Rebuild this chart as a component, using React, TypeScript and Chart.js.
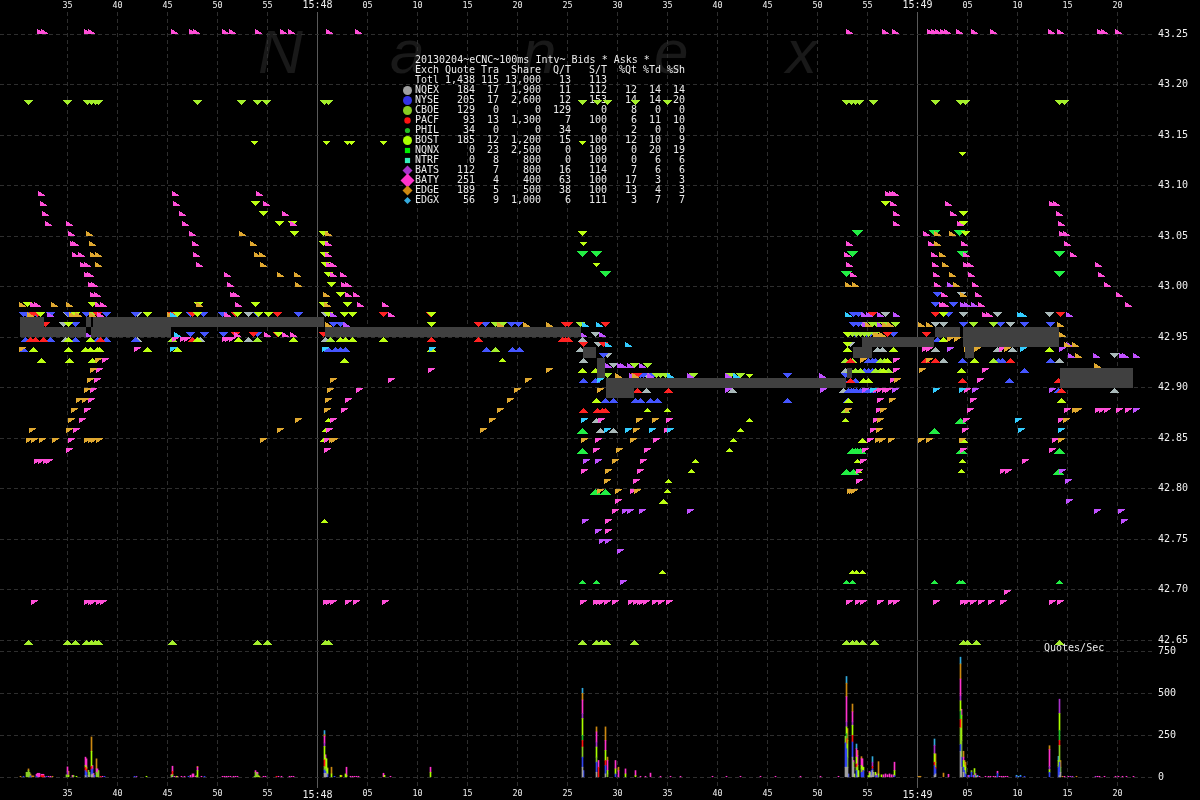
import React, { useEffect, useRef } from "react";
import { Chart, registerables } from "chart.js";

Chart.register(...registerables);

// x values are 100ms interval numbers; 15:47:35 is interval 67, 15:48:00 is 317.
const xTickPositions = [67, 117, 167, 217, 267, 317, 367, 417, 467, 517, 567, 617, 667, 717, 767, 817, 867, 917, 967, 1017, 1067, 1117];
const xTickLabels = ["35", "40", "45", "50", "55", "15:48", "05", "10", "15", "20", "25", "30", "35", "40", "45", "50", "55", "15:49", "05", "10", "15", "20"];
const priceTicks = [42.65, 42.7, 42.75, 42.8, 42.85, 42.9, 42.95, 43.0, 43.05, 43.1, 43.15, 43.2, 43.25];
const quoteTicks = [0, 250, 500, 750];

const titleLine = "20130204~eCNC~100ms Intv~ Bids * Asks *";
const tableHeader = ["Exch", "Quote", "Tra", "Share", "Q/T", "S/T", "%Qt", "%Td", "%Sh"];
const tableTotal = ["Totl", "1,438", "115", "13,000", "13", "113", "", "", ""];
const tableRows = [
  ["NQEX", "184", "17", "1,900", "11", "112", "12", "14", "14"],
  ["NYSE", "205", "17", "2,600", "12", "153", "14", "14", "20"],
  ["CBOE", "129", "0", "0", "129", "0", "8", "0", "0"],
  ["PACF", "93", "13", "1,300", "7", "100", "6", "11", "10"],
  ["PHIL", "34", "0", "0", "34", "0", "2", "0", "0"],
  ["BOST", "185", "12", "1,200", "15", "100", "12", "10", "9"],
  ["NQNX", "0", "23", "2,500", "0", "109", "0", "20", "19"],
  ["NTRF", "0", "8", "800", "0", "100", "0", "6", "6"],
  ["BATS", "112", "7", "800", "16", "114", "7", "6", "6"],
  ["BATY", "251", "4", "400", "63", "100", "17", "3", "3"],
  ["EDGE", "189", "5", "500", "38", "100", "13", "4", "3"],
  ["EDGX", "56", "9", "1,000", "6", "111", "3", "7", "7"],
];
const watermarkLetters = ["N", "a", "n", "e", "x"];

// NBBO band: [start interval, end interval, low price, high price]
const nbboBand = [
  [20, 44, 42.95, 42.97], [44, 86, 42.95, 42.96], [86, 91, 42.96, 42.97], [91, 93, 42.95, 42.96],
  [93, 171, 42.95, 42.97], [171, 324, 42.96, 42.97], [325, 581, 42.95, 42.96], [583, 596, 42.93, 42.94],
  [597, 605, 42.91, 42.93], [606, 634, 42.89, 42.91], [634, 846, 42.9, 42.91], [847, 852, 42.91, 42.92],
  [853, 872, 42.93, 42.94], [862, 934, 42.94, 42.95], [935, 960, 42.95, 42.96], [963, 1059, 42.94, 42.96],
  [965, 974, 42.93, 42.94], [1060, 1133, 42.9, 42.92],
];

// Quote rows: [price, interval, interval, ...]
const nqexAsks = [[42.99, 961], [42.97, 67, 137, 248, 325, 885, 963, 997, 1049], [42.96, 63, 862, 935, 943, 1010], [42.95, 595], [42.94, 598, 850], [42.93, 607, 1114], [42.92, 613], [42.91, 646]];
const nqexBids = [[42.95, 65, 137, 200, 248, 325, 582], [42.94, 580, 877, 882, 935, 997, 1012], [42.93, 583, 943, 1059], [42.92, 845], [42.9, 646, 732, 843, 1114], [42.87, 596], [42.86, 600, 613]];
const nyseAsks = [[42.99, 937], [42.98, 935, 953], [42.97, 23, 26, 36, 50, 68, 86, 106, 135, 190, 203, 222, 257, 298, 853, 858, 948], [42.96, 75, 333, 340, 485, 511, 518, 853, 858, 963, 1000, 1024, 1050], [42.95, 190, 204, 223, 257, 855, 866, 870, 893], [42.93, 603], [42.91, 635, 640, 643, 653, 787, 845]];
const nyseBids = [[42.95, 25, 50, 75, 97, 106, 135, 937], [42.94, 23, 328, 335, 340, 345, 486, 512, 519], [42.93, 868, 872, 875, 962, 998, 1002, 1050], [42.92, 864, 868, 872, 1024], [42.91, 583, 595, 843, 855, 1009], [42.9, 848, 851, 853, 856, 860, 863, 868, 871, 1058], [42.89, 605, 613, 635, 640, 650, 657, 787, 847]];
const cboeAsks = [[43.18, 28, 67, 87, 91, 95, 98, 197, 241, 257, 266, 324, 328, 582, 597, 607, 635, 667, 846, 851, 855, 859, 873, 935, 960, 965, 1059, 1064], [42.98, 27], [42.97, 93], [42.96, 495, 502, 580, 872, 876, 884, 895, 973, 993], [42.95, 848, 852, 856, 860, 864, 868, 874], [42.92, 634, 647], [42.91, 607, 656, 660, 665, 693, 730, 740]];
const cboeBids = [[42.95, 172, 257, 330], [42.94, 495], [42.93, 845, 852, 880, 884, 993], [42.92, 850, 855, 860, 875, 880, 888], [42.88, 845], [42.65, 28, 67, 75, 86, 91, 95, 98, 172, 257, 267, 325, 328, 582, 596, 601, 606, 634, 846, 852, 856, 862, 874, 963, 967, 976, 1059]];
const pacfAsks = [[42.97, 33, 37, 97, 172, 192, 235, 277, 383, 430, 872, 935, 1060], [42.96, 45, 478, 565, 568, 605], [42.95, 235, 253, 277, 323, 887, 926], [42.94, 583, 603], [42.91, 635, 637]];
const pacfBids = [[42.95, 30, 35, 43, 100, 192, 431, 478, 562, 565, 568], [42.93, 850, 925, 935, 1010], [42.91, 850, 962, 1058], [42.9, 637, 668, 1061], [42.88, 583, 597, 602, 605]];
const philAsks = [[43.05, 857, 934, 959], [43.03, 582, 596, 852, 962, 1059], [43.01, 605, 846, 1059]];
const philBids = [[42.87, 960], [42.86, 582, 934], [42.84, 582, 852, 855, 857, 860, 961, 1059], [42.82, 846, 853, 1058], [42.8, 595, 605]];
const philSmallBids = [[42.71, 582, 596, 846, 852, 934, 959, 962, 1059]];
const bostAsks = [[43.08, 255, 885], [43.07, 263, 963], [43.06, 279, 292, 963], [43.05, 294, 323, 582, 965], [43.04, 323], [43.03, 324], [43.02, 325], [43.01, 328], [43.0, 331], [42.99, 340], [42.98, 27, 92, 198, 255, 323, 347], [42.97, 40, 75, 147, 177, 197, 237, 258, 268, 328, 344, 352, 431, 943], [42.96, 68, 431], [42.95, 278, 847], [42.94, 847]];
const bostBids = [[42.95, 68, 90, 197, 238, 293, 340, 345, 352, 383, 943], [42.94, 33, 68, 85, 90, 97, 99, 147, 177, 431, 847, 893, 1049], [42.93, 41, 69, 92, 344, 887, 974], [42.92, 582, 595, 883, 961], [42.91, 863, 868], [42.89, 596, 848, 1061], [42.85, 862, 963], [42.79, 663]];
const bostSmallAsks = [[43.14, 254, 326, 347, 351, 383, 582], [43.13, 962], [43.04, 583], [43.02, 596], [42.91, 749]];
const bostSmallBids = [[42.93, 502], [42.88, 647, 667], [42.87, 328, 749, 845], [42.86, 325, 740], [42.85, 323, 733], [42.84, 729], [42.83, 695, 857, 962], [42.82, 691, 858, 961], [42.81, 668], [42.8, 667], [42.77, 324], [42.72, 662, 852, 856, 862]];
const batsAsks = [[43.0, 950], [42.98, 963, 967, 974], [42.97, 50, 333, 864, 869, 880, 896, 1069], [42.96, 346, 865, 880], [42.95, 88, 583, 602], [42.94, 1069], [42.93, 1071, 1096, 1122, 1125, 1136], [42.92, 608, 620, 623, 630, 642], [42.91, 632, 650, 690, 728, 822]];
const batsBids = [[42.94, 950, 1062], [42.9, 728, 823, 865, 895, 975, 1052], [42.88, 1136], [42.83, 586, 598], [42.82, 1062], [42.81, 1068], [42.79, 1069], [42.78, 625, 630, 642, 690, 1097, 1121], [42.77, 585, 1124], [42.76, 598], [42.75, 602, 608], [42.74, 620], [42.71, 623]];
const batyAsks = [[43.25, 40, 44, 87, 91, 174, 192, 196, 225, 232, 258, 283, 291, 329, 358, 849, 885, 895, 930, 934, 938, 943, 947, 959, 974, 993, 1051, 1060, 1100, 1104, 1118], [43.09, 41, 175, 259, 888, 892, 895], [43.08, 43, 176, 266, 893, 948, 1052, 1056], [43.07, 45, 182, 285, 896, 953, 1059], [43.06, 48, 69, 185, 293, 896, 960, 1061], [43.05, 71, 192, 328, 926, 1062, 1066], [43.04, 73, 75, 195, 328, 849, 931, 964, 1067], [43.03, 75, 81, 196, 328, 847, 934, 966, 1073], [43.02, 83, 87, 199, 329, 333, 849, 935, 966, 970, 1098], [43.01, 87, 90, 227, 333, 343, 853, 936, 971, 1101], [43.0, 91, 94, 230, 344, 348, 937, 975, 1107], [42.99, 93, 97, 233, 236, 348, 356, 944, 978, 1119], [42.98, 33, 37, 98, 103, 238, 360, 385, 942, 945, 981, 1128], [42.97, 100, 227, 391, 985, 989], [42.95, 237, 267, 285, 293]];
const batyBids = [[42.95, 175, 183, 187, 225, 228, 232], [42.94, 137, 925, 929, 1002], [42.93, 105, 896], [42.92, 99, 431, 896, 985], [42.91, 97, 391, 893, 980], [42.9, 93, 359, 876, 880, 885, 888, 967], [42.89, 91, 348, 880, 973], [42.88, 87, 344, 879, 970, 1067, 1098, 1102, 1107, 1119, 1128], [42.87, 82, 333, 601, 669, 876, 966, 1061], [42.86, 76, 329, 667, 873, 965], [42.85, 71, 327, 598, 656, 870, 1055], [42.84, 69, 327, 596, 647, 865, 963, 1052], [42.83, 37, 41, 46, 49, 643, 863, 1025], [42.82, 584, 640, 859, 1003, 1008], [42.81, 636, 859], [42.8, 633], [42.79, 618], [42.78, 615], [42.77, 608], [42.76, 608], [42.7, 1007], [42.69, 34, 87, 91, 93, 99, 103, 326, 329, 333, 348, 356, 385, 583, 596, 599, 602, 607, 615, 631, 636, 640, 642, 646, 655, 661, 669, 849, 858, 863, 880, 891, 896, 936, 963, 967, 973, 981, 991, 1003, 1052, 1060]];
const edgeAsks = [[43.05, 89, 242, 328, 937, 952], [43.04, 92, 253, 937], [43.03, 93, 98, 257, 262, 942], [43.02, 98, 263, 945], [43.01, 280, 297, 952], [43.0, 298, 848, 855, 956], [42.99, 326, 963], [42.98, 22, 54, 69, 199, 327], [42.97, 30, 72, 78, 92, 170], [42.96, 328, 500, 526, 549, 868, 885, 890, 921, 929, 1060], [42.95, 876, 878, 882, 1062], [42.94, 1067, 1075], [42.93, 1078], [42.92, 1097], [42.91, 618, 635]];
const edgeBids = [[42.95, 950, 957], [42.94, 22, 967, 977, 1007], [42.93, 98, 863, 929], [42.92, 93, 549, 922], [42.91, 90, 333, 528, 897], [42.9, 87, 330, 517, 600], [42.89, 79, 85, 328, 510, 892], [42.88, 74, 327, 500, 848, 883, 1075, 1078], [42.87, 71, 298, 492, 639, 655, 880, 1066], [42.86, 32, 69, 280, 483, 636, 879], [42.85, 29, 34, 42, 55, 87, 91, 94, 99, 263, 332, 334, 584, 633, 878, 882, 891, 921, 929, 962, 1061], [42.84, 619], [42.83, 615], [42.82, 608], [42.81, 607], [42.8, 600, 618, 637, 850, 852, 854]];
const edgxAsks = [[42.97, 173, 848, 1020, 1023], [42.96, 585, 599], [42.95, 177], [42.94, 608, 628], [42.91, 670, 736]];
const edgxBids = [[42.94, 173, 325, 432, 1023], [42.91, 600], [42.9, 873, 936, 962], [42.87, 584, 1018], [42.86, 607, 628, 652, 670, 1021, 1061]];

// Quotes per second: [interval, value]
const nqexQuotes = [[85, 10], [88, 12], [91, 15], [92, 20], [172, 6], [324, 24], [325, 24], [326, 20], [582, 60], [596, 30], [605, 20], [845, 60], [846, 60], [847, 60], [852, 120], [853, 60], [857, 10], [870, 20], [871, 10], [872, 40], [873, 30], [934, 10], [935, 20], [960, 155], [961, 60], [963, 30], [1059, 10], [1060, 30]];
const nyseQuotes = [[23, 6], [30, 8], [36, 6], [46, 6], [85, 30], [86, 30], [91, 30], [92, 30], [94, 12], [104, 6], [134, 6], [188, 6], [204, 6], [324, 20], [325, 10], [327, 20], [334, 6], [582, 60], [583, 40], [596, 60], [605, 50], [615, 20], [845, 145], [846, 110], [848, 20], [852, 90], [856, 40], [861, 30], [862, 30], [863, 40], [871, 30], [872, 10], [875, 10], [877, 10], [894, 10], [934, 60], [935, 30], [960, 40], [961, 60], [963, 30], [964, 40], [965, 20], [969, 12], [971, 30], [974, 12], [997, 24], [1016, 6], [1020, 6], [1024, 6], [1049, 30], [1058, 60], [1059, 80]];
const cboeQuotes = [[26, 30], [27, 30], [28, 40], [29, 30], [66, 15], [67, 12], [73, 12], [88, 30], [89, 30], [96, 30], [97, 20], [98, 40], [171, 12], [172, 10], [196, 10], [254, 6], [255, 30], [257, 20], [324, 20], [325, 20], [582, 60], [596, 30], [607, 20], [845, 40], [846, 30], [847, 60], [853, 30], [856, 20], [861, 20], [960, 100], [961, 100], [971, 10], [974, 20], [1058, 10], [1059, 100], [1060, 30]];
const pacfQuotes = [[41, 10], [42, 10], [43, 10], [85, 20], [86, 20], [91, 20], [100, 6], [172, 20], [276, 6], [324, 40], [582, 40], [598, 60], [605, 30], [846, 30], [852, 40], [856, 20], [862, 10], [872, 15], [934, 20], [935, 10], [960, 50], [1059, 30]];
const philQuotes = [[582, 30], [846, 30], [960, 50], [1059, 60]];
const bostQuotes = [[68, 12], [76, 6], [85, 10], [86, 10], [91, 90], [146, 6], [176, 6], [197, 40], [256, 10], [258, 10], [324, 80], [325, 60], [326, 90], [327, 30], [331, 20], [340, 12], [345, 20], [346, 10], [384, 12], [430, 30], [582, 100], [596, 60], [605, 60], [607, 20], [615, 30], [625, 20], [635, 10], [846, 40], [847, 100], [852, 60], [854, 20], [856, 40], [857, 60], [858, 40], [861, 20], [862, 20], [863, 20], [868, 10], [869, 25], [870, 10], [875, 20], [878, 20], [881, 15], [894, 30], [934, 50], [935, 30], [960, 60], [961, 150], [963, 40], [964, 30], [965, 40], [974, 20], [975, 10], [1049, 15], [1058, 30], [1059, 100]];
const batsQuotes = [[67, 20], [136, 6], [324, 20], [582, 30], [596, 30], [846, 30], [852, 20], [872, 25], [934, 50], [960, 30], [1049, 20], [1059, 85], [1070, 6], [1072, 6], [1095, 6]];
const batyQuotes = [[36, 12], [37, 24], [38, 24], [39, 24], [41, 8], [42, 8], [43, 8], [44, 6], [48, 6], [50, 6], [67, 30], [72, 12], [85, 50], [86, 50], [92, 20], [93, 24], [96, 20], [97, 30], [102, 6], [171, 6], [172, 30], [174, 6], [177, 6], [181, 6], [184, 6], [190, 12], [192, 20], [193, 20], [195, 6], [197, 20], [201, 6], [222, 6], [224, 6], [226, 6], [228, 6], [230, 6], [233, 6], [235, 6], [237, 6], [255, 10], [256, 20], [257, 10], [263, 6], [265, 6], [278, 6], [281, 6], [289, 6], [291, 6], [293, 6], [324, 40], [325, 20], [346, 50], [350, 6], [352, 6], [354, 6], [356, 6], [358, 6], [383, 24], [390, 6], [430, 30], [582, 80], [596, 60], [598, 40], [605, 60], [607, 60], [615, 50], [618, 40], [625, 30], [635, 30], [640, 6], [645, 6], [650, 25], [660, 6], [670, 6], [680, 6], [712, 6], [726, 6], [740, 6], [760, 6], [775, 6], [800, 6], [820, 6], [838, 6], [846, 150], [852, 60], [853, 10], [856, 50], [857, 60], [861, 40], [862, 50], [869, 10], [876, 20], [883, 15], [885, 20], [887, 15], [889, 20], [891, 15], [893, 15], [894, 50], [948, 18], [960, 100], [961, 35], [963, 20], [968, 12], [973, 12], [975, 12], [976, 6], [979, 6], [985, 6], [988, 6], [990, 6], [993, 6], [995, 6], [997, 12], [999, 6], [1001, 6], [1003, 6], [1005, 6], [1007, 6], [1049, 100], [1064, 6], [1068, 6], [1097, 6], [1099, 6], [1104, 6], [1115, 6], [1118, 6], [1122, 6], [1126, 6], [1133, 6]];
const edgeQuotes = [[20, 6], [28, 10], [30, 12], [31, 8], [32, 8], [33, 8], [52, 6], [68, 24], [91, 85], [96, 60], [197, 5], [259, 6], [324, 10], [327, 6], [331, 40], [341, 12], [582, 40], [596, 30], [605, 80], [607, 20], [618, 20], [846, 80], [847, 70], [852, 46], [857, 30], [861, 13], [878, 73], [918, 6], [919, 6], [920, 6], [935, 50], [943, 25], [960, 90], [963, 35], [964, 30], [965, 30], [1049, 23], [1060, 40], [1062, 6], [1076, 6]];
const edgxQuotes = [[324, 24], [582, 30], [846, 40], [856, 28], [872, 33], [934, 38], [960, 40], [977, 12], [1016, 6], [1018, 6], [1020, 6], [1058, 25]];

const COL = {
  nqex: "#a9b9b9", nyse: "#4455ff", cboe: "#a4ee2c", pacf: "#ff2222", phil: "#22ee44",
  bost: "#bcff12", bats: "#c050ff", baty: "#ff4fd8", edge: "#e0a830", edgx: "#33ccff",
};

function makeMarker(color: string, kind: "iso" | "right", side: "ask" | "bid", w: number, h: number) {
  const c = document.createElement("canvas");
  c.width = w;
  c.height = h * 2;
  const g = c.getContext("2d")!;
  g.fillStyle = color;
  for (let r = 0; r < h; r++) {
    const y = side === "ask" ? r : h + r;
    if (kind === "iso") {
      const inset = side === "ask" ? r : h - 1 - r;
      const rowW = Math.max(1, w - 2 * inset);
      g.fillRect((w - rowW) / 2, y, rowW, 1);
    } else {
      const t = side === "ask" ? (r + 1) / h : (h - r) / h;
      const rowW = Math.max(1, Math.round(w * t));
      g.fillRect(0, y, rowW, 1);
    }
  }
  return c;
}

function points(rows: number[][]) {
  const out: { x: number; y: number }[] = [];
  rows.forEach(([price, ...xs]) => xs.forEach((x) => out.push({ x, y: price })));
  return out;
}

const MONO = '"DejaVu Sans Mono", monospace';

export default function App() {
  const ref = useRef<HTMLCanvasElement | null>(null);
  useEffect(() => {
    const canvas = ref.current!;
    const series: [number[][], string, "iso" | "right", "ask" | "bid", number, number][] = [
      [edgxAsks, COL.edgx, "right", "ask", 7, 5], [edgxBids, COL.edgx, "right", "bid", 7, 5],
      [edgeAsks, COL.edge, "right", "ask", 7, 5], [edgeBids, COL.edge, "right", "bid", 7, 5],
      [batyAsks, COL.baty, "right", "ask", 7, 5], [batyBids, COL.baty, "right", "bid", 7, 5],
      [batsAsks, COL.bats, "right", "ask", 7, 5], [batsBids, COL.bats, "right", "bid", 7, 5],
      [bostAsks, COL.bost, "iso", "ask", 9, 5], [bostBids, COL.bost, "iso", "bid", 9, 5],
      [bostSmallAsks, COL.bost, "iso", "ask", 7, 4], [bostSmallBids, COL.bost, "iso", "bid", 7, 4],
      [philAsks, COL.phil, "iso", "ask", 11, 6], [philBids, COL.phil, "iso", "bid", 11, 6],
      [philSmallBids, COL.phil, "iso", "bid", 7, 4],
      [pacfAsks, COL.pacf, "iso", "ask", 9, 5], [pacfBids, COL.pacf, "iso", "bid", 9, 5],
      [cboeAsks, COL.cboe, "iso", "ask", 9, 5], [cboeBids, COL.cboe, "iso", "bid", 9, 5],
      [nyseAsks, COL.nyse, "iso", "ask", 9, 5], [nyseBids, COL.nyse, "iso", "bid", 9, 5],
      [nqexAsks, COL.nqex, "iso", "ask", 9, 5], [nqexBids, COL.nqex, "iso", "bid", 9, 5],
    ];
    const markerSets = series.map(([rows, color, kind, side, w, h]) => ({
      type: "scatter",
      data: points(rows),
      xAxisID: "x",
      yAxisID: "y",
      pointStyle: makeMarker(color, kind, side, w, h),
      pointRadius: 5,
      showLine: false,
      order: 2,
      clip: false,
      label: "marker",
    }));
    const bandSets = nbboBand.map(([x0, x1, lo, hi]) => ({
      type: "line",
      data: [{ x: x0, y: hi }, { x: x1, y: hi }, { x: x1, y: lo }, { x: x0, y: lo }],
      xAxisID: "x",
      yAxisID: "y",
      borderWidth: 0,
      borderColor: "rgba(0,0,0,0)",
      pointRadius: 0,
      fill: "shape",
      backgroundColor: "#404040",
      tension: 0,
      order: 1,
      label: "band",
    }));
    const quoteSeries: [number[][], string][] = [
      [nqexQuotes, "#a0a0a0"], [nyseQuotes, "#3344ee"], [cboeQuotes, "#88cc22"], [pacfQuotes, "#ff1111"],
      [philQuotes, "#22bb22"], [bostQuotes, "#aaff00"], [batsQuotes, "#aa33cc"], [batyQuotes, "#ff33cc"],
      [edgeQuotes, "#cc8811"], [edgxQuotes, "#33aadd"],
    ];
    const barSets = quoteSeries.map(([rows, color]) => ({
      type: "bar",
      data: rows.map(([x, y]) => ({ x, y })),
      xAxisID: "x",
      yAxisID: "q",
      stack: "quotes",
      backgroundColor: color,
      barThickness: 1,
      borderWidth: 0,
      order: 3,
      label: "quotes",
    }));

    const labelFor = (v: number) => xTickLabels[xTickPositions.indexOf(v)] ?? "";
    const xTicks = {
      autoSkip: false,
      maxRotation: 0,
      minRotation: 0,
      color: "#f0f0f0",
      padding: 1,
      font: (ctx: any) => ({
        family: MONO,
        size: ctx.tick && labelFor(ctx.tick.value).includes(":") ? 10 : 8.4,
      }),
      callback: (v: any) => labelFor(Number(v)),
    };
    const setXTicks = (s: any) => {
      s.ticks = xTickPositions.map((value) => ({ value }));
    };

    const chrome = {
      id: "nanexChrome",
      beforeDraw(chart: any) {
        const ctx = chart.ctx as CanvasRenderingContext2D;
        ctx.save();
        ctx.fillStyle = "#000";
        ctx.fillRect(0, 0, 1200, 800);
        ctx.fillStyle = "#191919";
        ctx.font = 'italic 62px "Liberation Sans", sans-serif';
        ctx.textBaseline = "alphabetic";
        watermarkLetters.forEach((t, i) => ctx.fillText(t, 258 + i * 132, 73));
        ctx.restore();
      },
      afterDatasetsUpdate(chart: any) {
        chart.data.datasets.forEach((d: any, i: number) => {
          const meta = chart.getDatasetMeta(i);
          if (d.label === "marker") {
            meta.data.forEach((el: any) => {
              el.y = Math.round(el.y);
            });
          } else if (d.label === "band") {
            meta.data.forEach((el: any) => {
              el.x = Math.round(el.x - 0.5);
              el.y = Math.round(el.y);
            });
          }
        });
      },
      beforeDatasetsDraw(chart: any) {
        const ctx = chart.ctx as CanvasRenderingContext2D;
        ctx.imageSmoothingEnabled = false;
        ctx.save();
        ctx.fillStyle = "#ececec";
        ctx.font = `10px ${MONO}`;
        ctx.textBaseline = "middle";
        ctx.textAlign = "left";
        ctx.fillText(titleLine, 415, 60.5);
        const rights = [0, 475, 499, 541, 571, 607, 637, 661, 685];
        const drawRow = (cells: string[], y: number) => {
          cells.forEach((t, i) => {
            ctx.textAlign = i === 0 ? "left" : "right";
            ctx.fillText(t, i === 0 ? 415 : rights[i], y);
          });
        };
        drawRow(tableHeader, 70.5);
        drawRow(tableTotal, 80.5);
        tableRows.forEach((r, i) => drawRow(r, 90.5 + i * 10));
        const glyphs: [string, string, number][] = [
          ["o", "#a0a0a0", 4.5], ["o", "#3333e6", 4.5], ["o", "#88cc22", 4.5], ["o", "#ff1111", 3.2],
          ["o", "#22bb22", 2.6], ["o", "#aaff00", 4.5], ["s", "#00ee00", 2.6], ["s", "#33eebb", 2.6],
          ["d", "#aa33cc", 5], ["d", "#ff33cc", 7], ["d", "#cc8811", 5], ["d", "#33aadd", 3.5],
        ];
        glyphs.forEach(([shape, color, r], i) => {
          const cx = 407.5;
          const cy = 90.5 + i * 10;
          ctx.fillStyle = color;
          ctx.beginPath();
          if (shape === "o") ctx.arc(cx, cy, r, 0, Math.PI * 2);
          else if (shape === "s") ctx.rect(cx - r, cy - r, 2 * r, 2 * r);
          else {
            ctx.moveTo(cx, cy - r);
            ctx.lineTo(cx + r, cy);
            ctx.lineTo(cx, cy + r);
            ctx.lineTo(cx - r, cy);
            ctx.closePath();
          }
          ctx.fill();
        });
        ctx.fillStyle = "#ececec";
        ctx.textAlign = "left";
        ctx.fillText("Quotes/Sec", 1044, 648);
        ctx.restore();
      },
    };

    const chart = new Chart(canvas, {
      type: "scatter",
      data: { datasets: [...bandSets, ...markerSets, ...barSets] as any },
      plugins: [chrome],
      options: {
        animation: false,
        responsive: false,
        devicePixelRatio: 1,
        events: [],
        layout: { padding: 0, autoPadding: false },
        plugins: { legend: { display: false }, tooltip: { enabled: false } },
        scales: {
          x: {
            type: "linear",
            position: "bottom",
            min: -0.5,
            max: 1154.5,
            offset: false,
            afterBuildTicks: setXTicks,
            afterFit: (s: any) => { s.height = 12; },
            ticks: xTicks,
            grid: {
              offset: false,
              drawTicks: false,
              lineWidth: 1,
              color: (ctx: any) => (ctx.tick && (ctx.tick.value === 317 || ctx.tick.value === 917) ? "#5a5a5a" : "#2e2e2e"),
            },
            border: {
              display: false,
              dash: (ctx: any) => (ctx.tick && (ctx.tick.value === 317 || ctx.tick.value === 917) ? [] : [4, 3]),
            },
          },
          xTop: {
            type: "linear",
            position: "top",
            min: -0.5,
            max: 1154.5,
            offset: false,
            afterBuildTicks: setXTicks,
            afterFit: (s: any) => { s.height = 12; },
            ticks: xTicks,
            grid: { display: false, drawTicks: false },
            border: { display: false },
          },
          y: {
            type: "linear",
            position: "right",
            stack: "panes",
            stackWeight: 633,
            min: 42.64535,
            max: 43.27208,
            afterBuildTicks: (s: any) => { s.ticks = priceTicks.map((value) => ({ value })); },
            afterFit: (s: any) => { s.width = 45; },
            ticks: {
              color: "#f0f0f0",
              padding: 3,
              autoSkip: false,
              font: { family: MONO, size: 10 },
              callback: (v: any) => Number(v).toFixed(2),
            },
            grid: { drawTicks: false, color: "#2e2e2e", lineWidth: 1 },
            border: { display: false, dash: [4, 3] },
          },
          q: {
            type: "linear",
            position: "right",
            stack: "panes",
            stackWeight: 143,
            stacked: true,
            min: -63.7,
            max: 787.4,
            afterBuildTicks: (s: any) => { s.ticks = quoteTicks.map((value) => ({ value })); },
            afterFit: (s: any) => { s.width = 45; },
            ticks: {
              color: "#f0f0f0",
              padding: 3,
              autoSkip: false,
              font: { family: MONO, size: 10 },
              callback: (v: any) => String(v),
            },
            grid: { drawTicks: false, color: "#2e2e2e", lineWidth: 1 },
            border: { display: false, dash: [4, 3] },
          },
        },
      } as any,
    });
    return () => chart.destroy();
  }, []);
  return (
    <div style={{ position: "absolute", left: 0, top: 0, width: 1200, height: 800, background: "#000" }}>
      <canvas ref={ref} width={1200} height={800} style={{ display: "block" }} />
    </div>
  );
}
